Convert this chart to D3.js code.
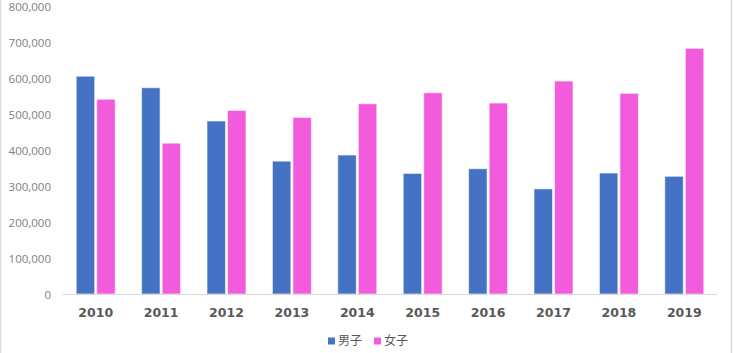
<!DOCTYPE html>
<html>
<head>
<meta charset="utf-8">
<script src="https://cdn.jsdelivr.net/npm/d3@7"></script>
<style>
  html, body { margin: 0; padding: 0; background: #fff; }
  svg { display: block; }
</style>
</head>
<body>
<svg id="chart" width="733" height="353"></svg>
<script>
const years = ["2010","2011","2012","2013","2014","2015","2016","2017","2018","2019"];
const seriesNames = ["男子", "女子"];
const male   = [605000, 573000, 480500, 369000, 386000, 335000, 348000, 292000, 336000, 327000];
const female = [541000, 419000, 510000, 490500, 528500, 559000, 530500, 591500, 557500, 682500];
const yTicks = [0, 100000, 200000, 300000, 400000, 500000, 600000, 700000, 800000];
const colors = ["#4472C4", "#F25CDC"];

const svg = d3.select("#chart");
const W = 733, H = 353;

// frame borders
svg.append("line").attr("x1", 0.5).attr("x2", 0.5).attr("y1", 0).attr("y2", H)
  .attr("stroke", "#d9d9d9").attr("stroke-width", 1.5);
svg.append("line").attr("x1", 731.5).attr("x2", 731.5).attr("y1", 0).attr("y2", H)
  .attr("stroke", "#d9d9d9").attr("stroke-width", 1.5);

const x = d3.scaleBand().domain(years).range([63, 717]).paddingInner(0).paddingOuter(0);
const y = d3.scaleLinear().domain([0, 800000]).range([294, 6]);
const inner = d3.scaleBand().domain(seriesNames).range([-19.5, 19.5]).paddingInner(0.1);

// y tick labels
svg.append("g").selectAll("text").data(yTicks).join("text")
  .attr("x", 51).attr("y", d => y(d) + 1).attr("dy", "0.35em")
  .attr("text-anchor", "end")
  .attr("font-family", "'Open Sans', sans-serif")
  .attr("font-size", 11.5).attr("fill", "#808080")
  .text(d => d3.format(",")(d));

// bars
const data = years.map((yr, i) => ({ yr, vals: [male[i], female[i]] }));
const groups = svg.append("g").selectAll("g").data(data).join("g")
  .attr("transform", d => `translate(${x(d.yr) + x.bandwidth() / 2},0)`);
groups.selectAll("rect").data(d => d.vals.map((v, j) => ({ v, j })))
  .join("rect")
  .attr("x", d => inner(seriesNames[d.j]))
  .attr("width", inner.bandwidth())
  .attr("y", d => y(d.v))
  .attr("height", d => y(0) - y(d.v))
  .attr("fill", d => colors[d.j])
  .attr("stroke", "rgba(255,255,255,0.6)")
  .attr("stroke-width", 1);

// baseline
svg.append("line").attr("x1", 63).attr("x2", 717).attr("y1", 294.5).attr("y2", 294.5)
  .attr("stroke", "#d9d9d9").attr("stroke-width", 1.2);

// x axis labels
svg.append("g").selectAll("text").data(years).join("text")
  .attr("x", d => x(d) + x.bandwidth() / 2).attr("y", 317)
  .attr("text-anchor", "middle")
  .attr("font-family", "'DejaVu Sans', sans-serif")
  .attr("font-size", 12.5).attr("font-weight", "bold").attr("fill", "#595959")
  .text(d => d);

// legend
const legendX = [328, 374];
const lg = svg.append("g").selectAll("g").data(seriesNames).join("g")
  .attr("transform", (d, i) => `translate(${legendX[i]},341)`);
lg.append("rect").attr("x", 0).attr("y", -3.5).attr("width", 7).attr("height", 7)
  .attr("fill", (d, i) => colors[i]);
lg.append("text").attr("x", 10).attr("y", 0).attr("dy", "0.36em")
  .attr("font-family", "'Noto Sans CJK JP', sans-serif")
  .attr("font-size", 12).attr("fill", "#595959")
  .text(d => d);
</script>
</body>
</html>
